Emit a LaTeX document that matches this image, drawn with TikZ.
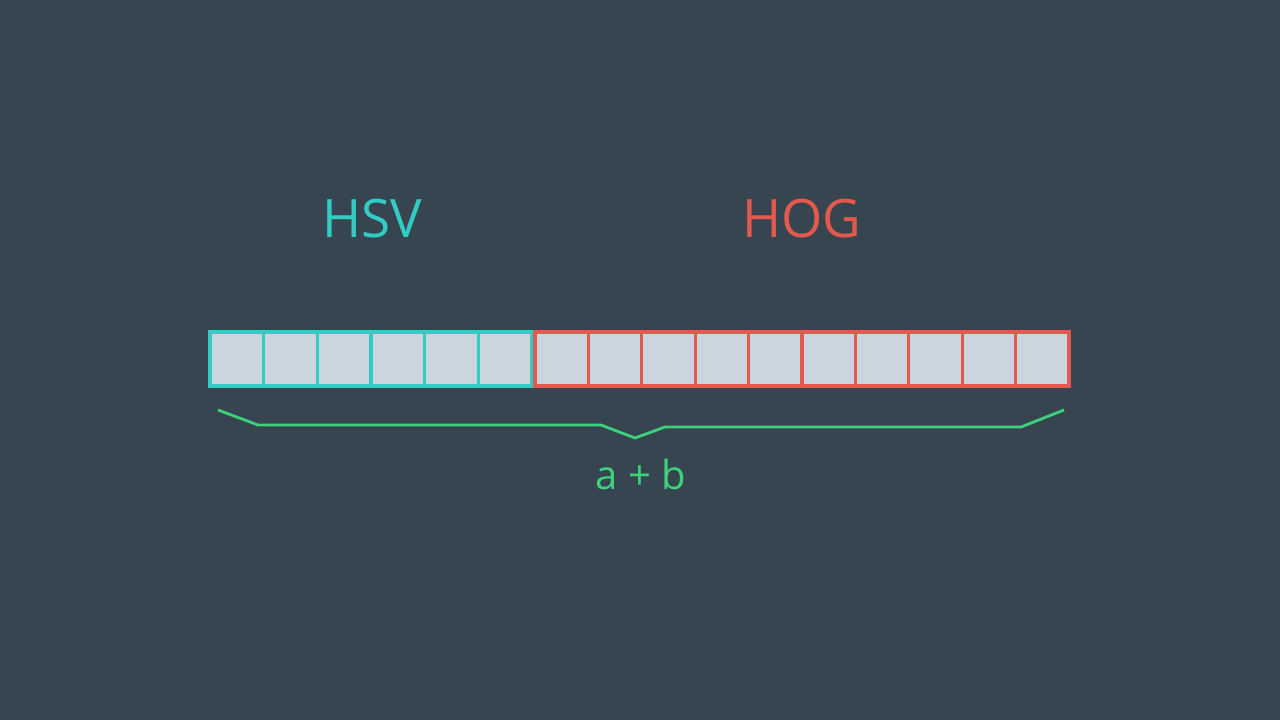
\documentclass[tikz,border=0pt]{standalone}
\usepackage{fontspec}
\setmainfont{Open Sans}
\definecolor{bg}{HTML}{36454F}
\definecolor{cellfill}{HTML}{CBD5DD}
\definecolor{teal}{HTML}{33CCC4}
\definecolor{hogred}{HTML}{E2594D}
\definecolor{brgreen}{HTML}{3DD17E}
\begin{document}
\begin{tikzpicture}[x=1pt,y=-1pt,
  hsvcell/.style={draw=teal,fill=cellfill,line width=3.2pt,minimum width=53.67pt,minimum height=54pt,inner sep=0pt,outer sep=0pt},
  hogcell/.style={draw=hogred,fill=cellfill,line width=3.2pt,minimum width=53.4pt,minimum height=54pt,inner sep=0pt,outer sep=0pt},
  brace/.style={draw=brgreen,line width=2.8pt,line join=miter},
  lbl/.style={font=\fontsize{53}{62}\selectfont,inner sep=0pt}]
\fill[bg] (0,0) rectangle (1280,720);
\useasboundingbox (0,0) rectangle (1280,720);
\foreach \i in {0,...,5} {
  \node[hsvcell] (s\i) at ({210+53.67*(\i+0.5)},359) {};
}
\foreach \i in {0,...,9} {
  \node[hogcell] (g\i) at ({535+53.4*(\i+0.5)},359) {};
}
\node[lbl,text=teal] (hsv) at (372,219) {HSV};
\node[lbl,text=hogred] (hog) at (802,219) {HOG};
\coordinate (b1) at (218,410);
\coordinate (b2) at (258,425);
\coordinate (b3) at (601,425);
\coordinate (b4) at (635,438);
\coordinate (b5) at (665,427);
\coordinate (b6) at (1021,427);
\coordinate (b7) at (1064,410);
\draw[brace] (b1) -- (b2) -- (b3) -- (b4) -- (b5) -- (b6) -- (b7);
\node[text=brgreen,font=\fontsize{40}{46}\selectfont,inner sep=0pt] (ab) at (641,474) {a + b};
\end{tikzpicture}
\end{document}
